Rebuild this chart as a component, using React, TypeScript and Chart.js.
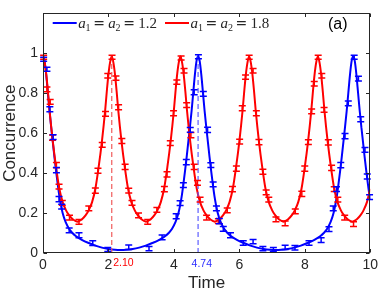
import React, { useEffect, useRef } from "react";
import { Chart, registerables } from "chart.js";

Chart.register(...registerables);

// ---------- data ----------
const xTicks = [0, 2, 4, 6, 8, 10];
const xTickLabels = ["0", "2", "4", "6", "8", "10"];
const yTicks = [0, 0.2, 0.4, 0.6, 0.8, 1];
const yTickLabels = ["0", "0.2", "0.4", "0.6", "0.8", "1"];

const seriesNames = ["1.2", "1.8"];

// theoretical curve, a1 = a2 = 1.2 (blue)
const blueT = [
  0.0, 0.05, 0.1, 0.15, 0.2, 0.25, 0.3, 0.35, 0.4, 0.45, 0.5, 0.6, 0.7, 0.8, 0.9, 1.0, 1.2, 1.4, 1.6, 1.8, 2.0,
  2.2, 2.37, 2.54, 2.74, 2.94, 3.14, 3.34, 3.54, 3.74, 3.84, 3.94, 4.04, 4.14, 4.24, 4.29, 4.34, 4.39, 4.44,
  4.49, 4.54, 4.59, 4.64, 4.69, 4.74, 4.79, 4.84, 4.89, 4.94, 4.99, 5.04, 5.09, 5.14, 5.19, 5.24, 5.34, 5.44,
  5.54, 5.64, 5.74, 5.94, 6.14, 6.34, 6.54, 6.74, 6.94, 7.11, 7.28, 7.48, 7.68, 7.88, 8.08, 8.28, 8.48, 8.58,
  8.68, 8.78, 8.88, 8.98, 9.03, 9.08, 9.13, 9.18, 9.23, 9.28, 9.33, 9.38, 9.43, 9.48, 9.53, 9.58, 9.63, 9.68,
  9.73, 9.78, 9.83, 9.88, 9.93, 9.98, 10.0,
];
const blueC = [
  0.985, 0.96, 0.89, 0.8, 0.71, 0.63, 0.555, 0.48, 0.41, 0.345, 0.285, 0.2, 0.152, 0.12, 0.1, 0.085, 0.065, 0.05,
  0.037, 0.027, 0.02, 0.016, 0.015, 0.016, 0.02, 0.027, 0.037, 0.05, 0.065, 0.085, 0.1, 0.12, 0.152, 0.2, 0.285,
  0.345, 0.41, 0.48, 0.555, 0.63, 0.71, 0.8, 0.89, 0.96, 0.985, 0.96, 0.89, 0.8, 0.71, 0.63, 0.555, 0.48, 0.41,
  0.345, 0.285, 0.2, 0.152, 0.12, 0.1, 0.085, 0.065, 0.05, 0.037, 0.027, 0.02, 0.016, 0.015, 0.016, 0.02, 0.027,
  0.037, 0.05, 0.065, 0.085, 0.1, 0.12, 0.152, 0.2, 0.285, 0.345, 0.41, 0.48, 0.555, 0.63, 0.71, 0.8, 0.89, 0.96,
  0.985, 0.96, 0.89, 0.8, 0.71, 0.63, 0.555, 0.48, 0.41, 0.345, 0.285, 0.265,
];

// theoretical curve, a1 = a2 = 1.8 (red)
const redT = [
  0.0, 0.05, 0.1, 0.15, 0.2, 0.3, 0.4, 0.5, 0.6, 0.7, 0.8, 0.9, 1.0, 1.05, 1.1, 1.2, 1.3, 1.4, 1.5, 1.6, 1.7,
  1.8, 1.9, 1.95, 2.0, 2.05, 2.1, 2.15, 2.2, 2.25, 2.3, 2.4, 2.5, 2.6, 2.7, 2.8, 2.9, 3.0, 3.1, 3.15, 3.2, 3.3,
  3.4, 3.5, 3.6, 3.7, 3.8, 3.9, 4.0, 4.05, 4.1, 4.15, 4.2, 4.25, 4.3, 4.35, 4.4, 4.5, 4.6, 4.7, 4.8, 4.9, 5.0,
  5.1, 5.2, 5.25, 5.3, 5.4, 5.5, 5.6, 5.7, 5.8, 5.9, 6.0, 6.1, 6.15, 6.2, 6.25, 6.3, 6.35, 6.4, 6.45, 6.5, 6.6,
  6.7, 6.8, 6.9, 7.0, 7.1, 7.2, 7.3, 7.35, 7.4, 7.5, 7.6, 7.7, 7.8, 7.9, 8.0, 8.1, 8.2, 8.25, 8.3, 8.35, 8.4,
  8.45, 8.5, 8.55, 8.6, 8.7, 8.8, 8.9, 9.0, 9.1, 9.2, 9.3, 9.4, 9.45, 9.5, 9.6, 9.7, 9.8, 9.9, 10.0,
];
const redC = [
  0.985, 0.955, 0.895, 0.81, 0.715, 0.558, 0.43, 0.322, 0.255, 0.215, 0.188, 0.17, 0.16, 0.157, 0.16, 0.17, 0.188,
  0.215, 0.255, 0.322, 0.43, 0.558, 0.715, 0.81, 0.895, 0.955, 0.985, 0.955, 0.895, 0.81, 0.715, 0.558, 0.43,
  0.322, 0.255, 0.215, 0.188, 0.17, 0.16, 0.157, 0.16, 0.17, 0.188, 0.215, 0.255, 0.322, 0.43, 0.558, 0.715, 0.81,
  0.895, 0.955, 0.985, 0.955, 0.895, 0.81, 0.715, 0.558, 0.43, 0.322, 0.255, 0.215, 0.188, 0.17, 0.16, 0.157,
  0.16, 0.17, 0.188, 0.215, 0.255, 0.322, 0.43, 0.558, 0.715, 0.81, 0.895, 0.955, 0.985, 0.955, 0.895, 0.81,
  0.715, 0.558, 0.43, 0.322, 0.255, 0.215, 0.188, 0.17, 0.16, 0.157, 0.16, 0.17, 0.188, 0.215, 0.255, 0.322, 0.43,
  0.558, 0.715, 0.81, 0.895, 0.955, 0.985, 0.955, 0.895, 0.81, 0.715, 0.558, 0.43, 0.322, 0.255, 0.215, 0.188,
  0.17, 0.16, 0.157, 0.16, 0.17, 0.188, 0.215, 0.255, 0.322,
];

// measured points with error bars (blue)
const bluePtT = [
  0.02, 0.12, 0.21, 0.31, 0.41, 0.49, 0.57, 0.8, 1.1, 1.52, 1.98, 2.62, 3.24, 3.64, 4.07, 4.19, 4.29, 4.38, 4.5,
  4.62, 4.75, 4.9, 5.03, 5.13, 5.2, 5.3, 5.39, 5.51, 5.73, 6.12, 6.42, 6.72, 7.04, 7.4, 7.7, 8.13, 8.5, 8.74,
  8.87, 8.97, 9.1, 9.23, 9.33, 9.51, 9.64, 9.71, 9.84, 9.91, 9.98,
];
const bluePtC = [
  0.97, 0.92, 0.72, 0.58, 0.415, 0.27, 0.232, 0.113, 0.089, 0.049, 0.017, 0.029, 0.022, 0.078, 0.184, 0.25, 0.34,
  0.455, 0.617, 0.805, 0.983, 0.797, 0.617, 0.44, 0.344, 0.224, 0.16, 0.121, 0.089, 0.05, 0.057, 0.022, 0.017,
  0.028, 0.026, 0.05, 0.064, 0.12, 0.224, 0.32, 0.44, 0.585, 0.749, 0.98, 0.873, 0.67, 0.516, 0.383, 0.28,
];
const bluePtE = [
  0.01, 0.01, 0.012, 0.012, 0.013, 0.013, 0.012, 0.012, 0.013, 0.012, 0.01, 0.011, 0.011, 0.012, 0.013, 0.012,
  0.012, 0.013, 0.012, 0.012, 0.01, 0.012, 0.013, 0.012, 0.012, 0.012, 0.013, 0.012, 0.012, 0.011, 0.011, 0.011,
  0.01, 0.011, 0.011, 0.011, 0.012, 0.012, 0.012, 0.012, 0.013, 0.013, 0.012, 0.01, 0.012, 0.013, 0.012, 0.013,
  0.012,
];

// measured points with error bars (red)
const redPtT = [
  0.02, 0.12, 0.22, 0.29, 0.41, 0.49, 0.59, 0.81, 1.1, 1.4, 1.6, 1.68, 1.81, 1.91, 1.98, 2.11, 2.23, 2.31, 2.41,
  2.51, 2.62, 2.72, 2.92, 3.2, 3.48, 3.71, 3.79, 3.89, 3.99, 4.09, 4.22, 4.31, 4.39, 4.52, 4.62, 4.72, 4.8, 5.0,
  5.36, 5.63, 5.79, 5.91, 6.01, 6.09, 6.19, 6.3, 6.42, 6.52, 6.6, 6.72, 6.82, 6.9, 7.12, 7.4, 7.71, 7.91, 8.0,
  8.11, 8.21, 8.29, 8.41, 8.52, 8.59, 8.72, 8.82, 8.9, 9.01, 9.22, 9.49,
];
const redPtC = [
  0.98, 0.82, 0.757, 0.578, 0.44, 0.332, 0.251, 0.177, 0.156, 0.224, 0.312, 0.412, 0.542, 0.697, 0.888, 0.98,
  0.876, 0.73, 0.561, 0.431, 0.312, 0.251, 0.188, 0.156, 0.216, 0.32, 0.394, 0.55, 0.7, 0.856, 0.977, 0.913,
  0.741, 0.59, 0.431, 0.351, 0.267, 0.177, 0.16, 0.213, 0.32, 0.423, 0.558, 0.725, 0.881, 0.98, 0.913, 0.7, 0.555,
  0.407, 0.304, 0.267, 0.168, 0.148, 0.208, 0.296, 0.423, 0.555, 0.709, 0.848, 0.98, 0.888, 0.717, 0.554, 0.426,
  0.32, 0.267, 0.177, 0.145,
];
const redPtE = [
  0.01, 0.012, 0.012, 0.013, 0.013, 0.012, 0.012, 0.012, 0.012, 0.012, 0.013, 0.013, 0.012, 0.012, 0.011, 0.01,
  0.011, 0.012, 0.013, 0.013, 0.012, 0.012, 0.012, 0.012, 0.012, 0.013, 0.013, 0.012, 0.012, 0.011, 0.01, 0.011,
  0.012, 0.013, 0.013, 0.012, 0.012, 0.012, 0.012, 0.012, 0.013, 0.013, 0.012, 0.012, 0.011, 0.01, 0.011, 0.012,
  0.013, 0.013, 0.012, 0.012, 0.012, 0.012, 0.012, 0.013, 0.013, 0.012, 0.012, 0.011, 0.01, 0.011, 0.012, 0.013,
  0.013, 0.012, 0.012, 0.012, 0.012,
];

// period markers
const markerT = [2.1, 4.74];
const markerTop = [0.985, 0.985];
const markerLabels = ["2.10", "4.74"];

const panelLabel = "(a)";
const xTitle = "Time";
const yTitle = "Concurrence";

// ---------- styles ----------
const BLUE = "#0000ff";
const RED = "#ff0000";
const AXIS = "#262626";
const SANS = '"Liberation Sans", Arial, sans-serif';

const toXY = (ts: number[], cs: number[]) => ts.map((t, i) => ({ x: t, y: cs[i] }));

const decor = {
  id: "decor",
  afterDatasetsDraw(chart: any) {
    const { ctx, scales } = chart;
    const x = scales.x;
    const y = scales.y;
    const drawErr = (ts: number[], cs: number[], es: number[], color: string) => {
      ctx.save();
      ctx.strokeStyle = color;
      ctx.lineWidth = 1.5;
      ctx.beginPath();
      ts.forEach((t, i) => {
        const px = x.getPixelForValue(t);
        const p1 = y.getPixelForValue(cs[i] - es[i]);
        const p2 = y.getPixelForValue(cs[i] + es[i]);
        ctx.moveTo(px, p1);
        ctx.lineTo(px, p2);
        ctx.moveTo(px - 3.5, p1);
        ctx.lineTo(px + 3.5, p1);
        ctx.moveTo(px - 3.5, p2);
        ctx.lineTo(px + 3.5, p2);
      });
      ctx.stroke();
      ctx.restore();
    };
    drawErr(redPtT, redPtC, redPtE, RED);
    drawErr(bluePtT, bluePtC, bluePtE, BLUE);
  },
  afterDraw(chart: any) {
    const { ctx, chartArea: a, scales } = chart;
    const x = scales.x;
    const y = scales.y;
    ctx.save();
    // frame
    const L = Math.round(a.left) + 0.5;
    const R = Math.round(a.right) - 0.5;
    const T = Math.round(a.top) + 0.5;
    const B = Math.round(a.bottom) - 0.5;
    ctx.strokeStyle = AXIS;
    ctx.lineWidth = 1;
    ctx.strokeRect(L, T, R - L, B - T);
    // inward ticks
    ctx.beginPath();
    const tl = 3.5;
    xTicks.forEach((v) => {
      const px = Math.round(x.getPixelForValue(v)) + 0.5;
      ctx.moveTo(px, B);
      ctx.lineTo(px, B - tl);
      ctx.moveTo(px, T);
      ctx.lineTo(px, T + tl);
    });
    yTicks.forEach((v) => {
      const py = Math.round(y.getPixelForValue(v)) + 0.5;
      ctx.moveTo(L, py);
      ctx.lineTo(L + tl, py);
      ctx.moveTo(R, py);
      ctx.lineTo(R - tl, py);
    });
    ctx.stroke();

    // marker labels
    ctx.font = `10.5px ${SANS}`;
    ctx.textBaseline = "alphabetic";
    ctx.textAlign = "left";
    ctx.fillStyle = RED;
    ctx.fillText(markerLabels[0], x.getPixelForValue(markerT[0]) + 1.5, 266);
    ctx.fillStyle = "#2a2aff";
    ctx.fillText(markerLabels[1], x.getPixelForValue(markerT[1]) - 6.5, 266.5);

    // legend
    const drawEntry = (lx: number, color: string, val: string) => {
      ctx.strokeStyle = color;
      ctx.lineWidth = 2;
      ctx.beginPath();
      ctx.moveTo(lx, 23);
      ctx.lineTo(lx + 24, 23);
      ctx.stroke();
      const tx = lx + 25.6;
      const base = 28;
      ctx.fillStyle = AXIS;
      ctx.font = 'italic 15px "Liberation Serif", serif';
      ctx.fillText("a", tx, base);
      ctx.font = '10px "Liberation Serif", serif';
      ctx.fillText("1", tx + 7.3, base + 2.5);
      ctx.font = '14px "DejaVu Serif", serif';
      ctx.fillText("=", tx + 15, base);
      ctx.font = 'italic 15px "Liberation Serif", serif';
      ctx.fillText("a", tx + 30, base);
      ctx.font = '10px "Liberation Serif", serif';
      ctx.fillText("2", tx + 37.3, base + 2.5);
      ctx.font = '14px "DejaVu Serif", serif';
      ctx.fillText("=", tx + 45, base);
      ctx.font = '15px "Liberation Serif", serif';
      ctx.fillText(val, tx + 60, base);
    };
    drawEntry(52.7, BLUE, seriesNames[0]);
    drawEntry(165, RED, seriesNames[1]);

    // panel label
    ctx.fillStyle = "#000";
    ctx.font = `16px ${SANS}`;
    ctx.fillText(panelLabel, 328, 28.5);
    ctx.restore();
  },
};

export default function App() {
  const ref = useRef<HTMLCanvasElement | null>(null);
  useEffect(() => {
    if (!ref.current) return;
    const chart = new Chart(ref.current, {
      type: "scatter",
      data: {
        datasets: [
          {
            label: "marker1",
            data: [
              { x: markerT[0], y: 0 },
              { x: markerT[0], y: markerTop[0] },
            ],
            showLine: true,
            borderColor: "rgba(240,90,90,0.85)",
            borderWidth: 1.4,
            borderDash: [5, 3],
            pointRadius: 0,
          },
          {
            label: "marker2",
            data: [
              { x: markerT[1], y: 0 },
              { x: markerT[1], y: markerTop[1] },
            ],
            showLine: true,
            borderColor: "rgba(90,90,255,0.85)",
            borderWidth: 1.4,
            borderDash: [5, 3],
            pointRadius: 0,
          },
          {
            label: "a1 = a2 = 1.8",
            data: toXY(redT, redC),
            showLine: true,
            borderColor: RED,
            borderWidth: 2,
            pointRadius: 0,
            cubicInterpolationMode: "monotone",
          },
          {
            label: "a1 = a2 = 1.2",
            data: toXY(blueT, blueC),
            showLine: true,
            borderColor: BLUE,
            borderWidth: 2,
            pointRadius: 0,
            cubicInterpolationMode: "monotone",
          },
        ],
      },
      options: {
        animation: false,
        responsive: false,
        events: [],
        layout: { padding: { left: 0, right: 9, top: 2, bottom: 0 } },
        plugins: { legend: { display: false }, tooltip: { enabled: false } },
        scales: {
          x: {
            type: "linear",
            min: 0,
            max: 10,
            afterBuildTicks: (s: any) => {
              s.ticks = xTicks.map((v) => ({ value: v }));
            },
            afterFit: (s: any) => {
              s.height = 39;
            },
            grid: { display: false, drawTicks: false },
            border: { display: false },
            ticks: {
              padding: 4,
              color: AXIS,
              font: { family: SANS, size: 14 },
              maxRotation: 0,
              callback: (v: any) => {
                const i = xTicks.findIndex((t) => Math.abs(t - v) < 1e-6);
                return i >= 0 ? xTickLabels[i] : "";
              },
            },
            title: {
              display: true,
              text: xTitle,
              color: AXIS,
              font: { family: SANS, size: 17, lineHeight: 1 },
              padding: { top: 0, bottom: 0 },
            },
          },
          y: {
            type: "linear",
            min: 0,
            max: 1.2,
            afterBuildTicks: (s: any) => {
              s.ticks = yTicks.map((v) => ({ value: v }));
            },
            afterFit: (s: any) => {
              s.width = 43;
            },
            grid: { display: false, drawTicks: false },
            border: { display: false },
            ticks: {
              padding: 5,
              color: AXIS,
              font: { family: SANS, size: 14 },
              callback: (v: any) => {
                const i = yTicks.findIndex((t) => Math.abs(t - v) < 1e-6);
                return i >= 0 ? yTickLabels[i] : "";
              },
            },
            title: {
              display: true,
              text: yTitle,
              color: AXIS,
              font: { family: SANS, size: 17, lineHeight: 1 },
              padding: { top: 1.5, bottom: 0 },
            },
          },
        },
      },
      plugins: [decor],
    });
    return () => chart.destroy();
  }, []);
  return (
    <div style={{ position: "fixed", left: 0, top: 0, width: 382, height: 292, background: "#fff" }}>
      <canvas ref={ref} width={382} height={292} style={{ display: "block" }} />
    </div>
  );
}
